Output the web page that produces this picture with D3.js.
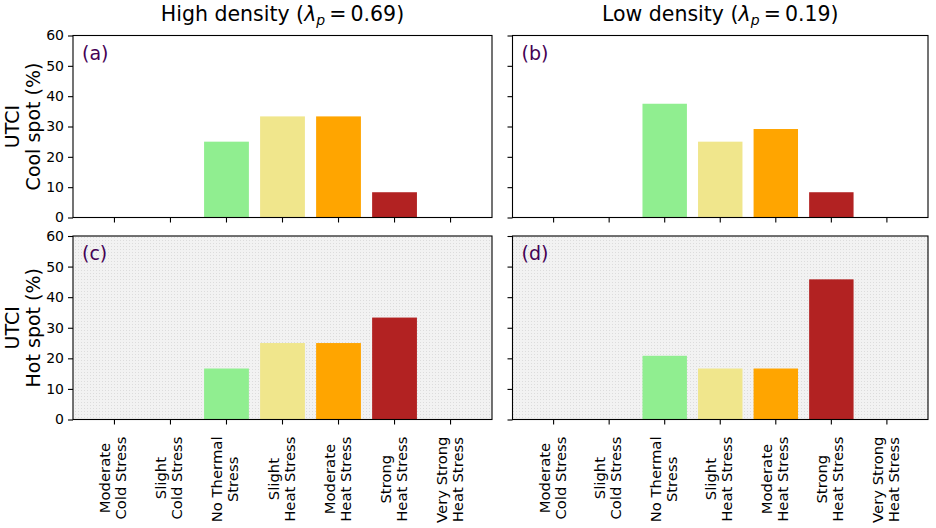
<!DOCTYPE html>
<html>
<head>
<meta charset="utf-8">
<script src="https://cdn.jsdelivr.net/npm/d3@7"></script>
<style>
  body { margin: 0; background: #fff; }
  svg { font-family: "DejaVu Sans", sans-serif; }
</style>
</head>
<body>
<div id="chart"></div>
<script>
// stress categories (x axis), two lines each
var categories = [
    "Moderate\nCold Stress",
    "Slight\nCold Stress",
    "No Thermal\nStress",
    "Slight\nHeat Stress",
    "Moderate\nHeat Stress",
    "Strong\nHeat Stress",
    "Very Strong\nHeat Stress"
];
var barColors = ["#add8e6", "#e0ffff", "#90ee90", "#f0e68c", "#ffa500", "#b22222", "#8b0000"];

// percentage of points in each class
var coolHigh = [0, 0, 25, 33.33, 33.33, 8.33, 0];
var coolLow = [0, 0, 37.5, 25, 29.17, 8.33, 0];
var hotHigh = [0, 0, 16.67, 25, 25, 33.33, 0];
var hotLow = [0, 0, 20.83, 16.67, 16.67, 45.83, 0];

var yTicks = [0, 10, 20, 30, 40, 50, 60];
var colTitles = [
    {name: "High density", value: "0.69"},
    {name: "Low density", value: "0.19"}
];
var rowLabels = [["UTCI", "Cool spot (%)"], ["UTCI", "Hot spot (%)"]];
var panelTags = ["(a)", "(b)", "(c)", "(d)"];

var width = 936, height = 528;
var cols = [[73, 492], [512.5, 928]];
var rows = [[35.5, 217.5], [236, 419.5]];

var svg = d3.select("#chart").append("svg")
    .attr("width", width)
    .attr("height", height);

// dotted grey background for the hot spot row
var defs = svg.append("defs");
var pat = defs.append("pattern")
    .attr("id", "dots")
    .attr("width", 3)
    .attr("height", 3)
    .attr("patternUnits", "userSpaceOnUse");
pat.append("rect").attr("width", 3).attr("height", 3).attr("fill", "#f2f2f2");
pat.append("rect").attr("width", 1).attr("height", 1).attr("fill", "#dcdcdc");

var panels = [
    {data: coolHigh, c: 0, r: 0},
    {data: coolLow, c: 1, r: 0},
    {data: hotHigh, c: 0, r: 1},
    {data: hotLow, c: 1, r: 1}
];

panels.forEach(function (p, i) {
    var x = d3.scaleBand()
        .domain(categories)
        .range(cols[p.c])
        .paddingInner(0.2)
        .paddingOuter(0.34);
    var y = d3.scaleLinear()
        .domain([0, 60])
        .range([rows[p.r][1], rows[p.r][0]]);

    var g = svg.append("g");

    if (p.r === 1) {
        g.append("rect")
            .attr("x", cols[p.c][0])
            .attr("y", rows[p.r][0])
            .attr("width", cols[p.c][1] - cols[p.c][0])
            .attr("height", rows[p.r][1] - rows[p.r][0])
            .attr("fill", "url(#dots)");
    }

    // bars
    g.selectAll(".bar")
        .data(p.data)
        .enter().append("rect")
        .attr("class", "bar")
        .attr("x", function (d, j) { return x(categories[j]); })
        .attr("width", x.bandwidth())
        .attr("y", function (d) { return y(d); })
        .attr("height", function (d) { return y(0) - y(d); })
        .attr("fill", function (d, j) { return barColors[j]; });

    // frame
    g.append("rect")
        .attr("x", cols[p.c][0])
        .attr("y", rows[p.r][0])
        .attr("width", cols[p.c][1] - cols[p.c][0])
        .attr("height", rows[p.r][1] - rows[p.r][0])
        .attr("fill", "none")
        .attr("stroke", "#000")
        .attr("stroke-width", 1.1);

    // x axis
    var xa = g.append("g")
        .attr("transform", "translate(0," + rows[p.r][1] + ")")
        .call(d3.axisBottom(x).tickSize(5).tickFormat(""));
    xa.select(".domain").remove();
    xa.selectAll("line").attr("stroke-width", 1.1);

    // y axis
    var ya = g.append("g")
        .attr("transform", "translate(" + cols[p.c][0] + ",0)")
        .call(d3.axisLeft(y).tickValues(yTicks).tickSize(5).tickPadding(4)
            .tickFormat(p.c === 0 ? d3.format("d") : ""));
    ya.select(".domain").remove();
    ya.selectAll("line").attr("stroke-width", 1.1);
    ya.selectAll("text")
        .style("font-family", "DejaVu Sans")
        .style("font-size", "14px")
        .attr("fill", "#000");

    // panel tag
    g.append("text")
        .attr("x", cols[p.c][0] + 9)
        .attr("y", rows[p.r][0] + 24)
        .attr("fill", "#440154")
        .style("font-size", "19px")
        .text(panelTags[i]);

    // rotated category labels under the bottom row
    if (p.r === 1) {
        categories.forEach(function (c) {
            var lines = c.split("\n");
            var t = g.append("text")
                .style("font-size", "14.8px")
                .attr("text-anchor", "middle");
            lines.forEach(function (ln, k) {
                t.append("tspan")
                    .attr("x", 0)
                    .attr("dy", k === 0 ? 0 : 16)
                    .text(ln);
            });
            var maxW = d3.max(t.selectAll("tspan").nodes(), function (n) {
                return n.getComputedTextLength();
            });
            var cx = x(c) + x.bandwidth() / 2;
            // two lines: centre the block on the tick
            t.attr("transform", "translate(" + (cx - 4) + "," + (rows[1][1] + 17 + maxW / 2) + ") rotate(-90)");
        });
    }
});

// column titles
colTitles.forEach(function (t, i) {
    var txt = svg.append("text")
        .attr("x", (cols[i][0] + cols[i][1]) / 2)
        .attr("y", 21)
        .attr("text-anchor", "middle")
        .style("font-size", "20.5px");
    txt.append("tspan").text(t.name + " (");
    txt.append("tspan").style("font-style", "italic").text("\u03bb");
    txt.append("tspan").style("font-style", "italic").style("font-size", "14px")
        .attr("dy", 4).text("p");
    txt.append("tspan").attr("dy", -4).text("\u2009=\u2009" + t.value + ")");
});

// row labels
rowLabels.forEach(function (lbl, i) {
    var cy = (rows[i][0] + rows[i][1]) / 2;
    var txt = svg.append("text")
        .attr("transform", "translate(19," + cy + ") rotate(-90)")
        .attr("text-anchor", "middle")
        .style("font-size", "19px");
    lbl.forEach(function (ln, k) {
        txt.append("tspan")
            .attr("x", 0)
            .attr("dy", k === 0 ? 0 : "1.08em")
            .text(ln);
    });
});
</script>
</body>
</html>
